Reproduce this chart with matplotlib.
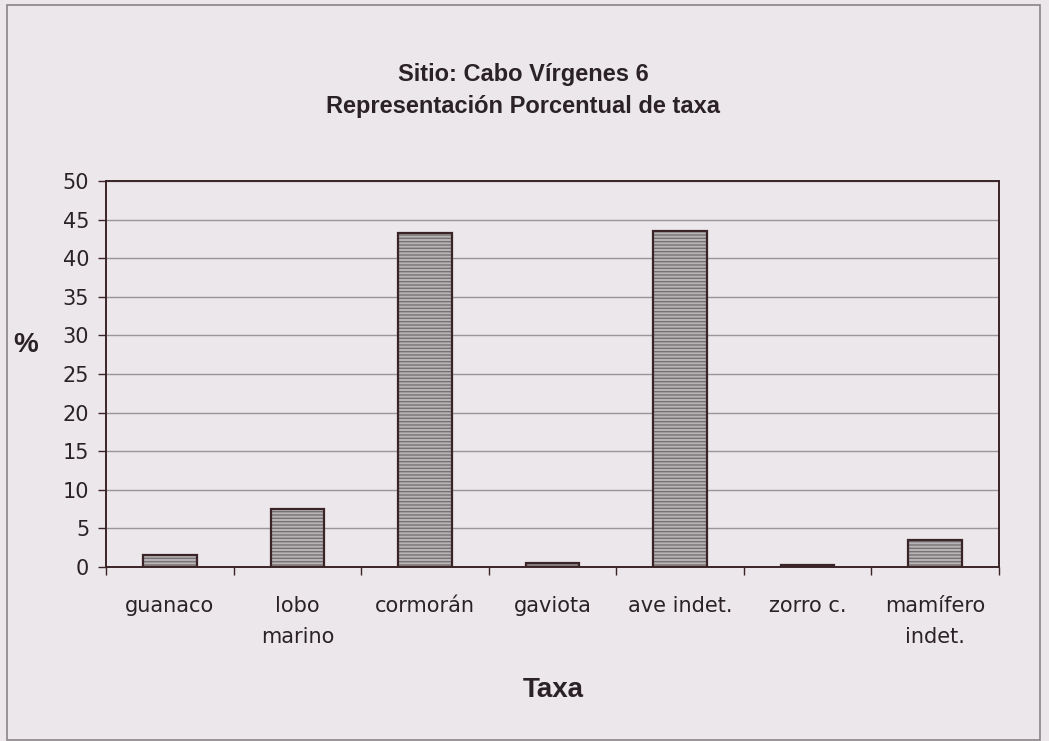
import numpy as np
import matplotlib.pyplot as plt
from matplotlib.patches import Rectangle

# data
taxa = ['guanaco', 'lobo\nmarino', 'cormorán', 'gaviota', 'ave indet.', 'zorro c.', 'mamífero\nindet.']
pct = [1.5, 7.5, 43.2, 0.5, 43.5, 0.3, 3.5]
yticks = [0, 5, 10, 15, 20, 25, 30, 35, 40, 45, 50]

bg = '#ece7ea'
dark = '#3a2428'

plt.rcParams['font.family'] = ['DejaVu Sans']

fig = plt.figure(figsize=(10.49, 7.41), dpi=100, facecolor=bg)
# outer frame of the chart
fig.patches.append(Rectangle((7 / 1049, 1 / 741), 1033 / 1049, 735 / 741,
                             transform=fig.transFigure, fill=False,
                             edgecolor='#8a8488', linewidth=1.2))

ax = fig.add_axes([106 / 1049, 174 / 741, 893 / 1049, 386 / 741])
ax.set_facecolor(bg)

x = np.arange(len(taxa))
# hatched fill first, then dark outline
ax.bar(x, pct, width=0.42, color='#b8b4b6', edgecolor='#767274',
       hatch='-----', linewidth=0, zorder=3)
ax.bar(x, pct, width=0.42, fill=False, edgecolor=dark, linewidth=1.6, zorder=4)

ax.set_xlim(-0.5, len(taxa) - 0.5)
ax.set_ylim(0, 50)
ax.set_yticks(yticks)
ax.yaxis.grid(True, color='#9a9598', linewidth=1.0, zorder=1)
ax.set_axisbelow(True)

# ticks between categories, labels at centres
ax.set_xticks(np.arange(len(taxa) + 1) - 0.5)
ax.set_xticklabels([])
ax.set_xticks(x, minor=True)
ax.set_xticklabels(taxa, minor=True, fontsize=15, color='#2a2226', linespacing=1.7,
                   va='top')
ax.tick_params(axis='x', which='minor', length=0, pad=21)
ax.tick_params(axis='x', which='major', length=6, width=1, color=dark, direction='out')
ax.tick_params(axis='y', length=6, width=1, color=dark, labelsize=15,
               labelcolor='#2a2226', pad=6)

for s in ax.spines.values():
    s.set_color(dark)
    s.set_linewidth(1.4)

fig.text(523 / 1049, 1 - 75 / 741, 'Sitio: Cabo Vírgenes 6', ha='center', va='center',
         fontsize=17, fontweight='bold', family='Liberation Sans', color='#2a2226')
fig.text(523 / 1049, 1 - 106 / 741, 'Representación Porcentual de taxa', ha='center',
         va='center', fontsize=17, fontweight='bold', family='Liberation Sans',
         color='#2a2226')
fig.text(553 / 1049, 1 - 690 / 741, 'Taxa', ha='center', va='center', fontsize=20,
         fontweight='bold', family='Liberation Sans', color='#2a2226')
fig.text(26 / 1049, 1 - 345 / 741, '%', ha='center', va='center', fontsize=20,
         fontweight='bold', family='Liberation Sans', color='#2a2226')

fig.savefig('out.png', dpi=100, facecolor=bg)
